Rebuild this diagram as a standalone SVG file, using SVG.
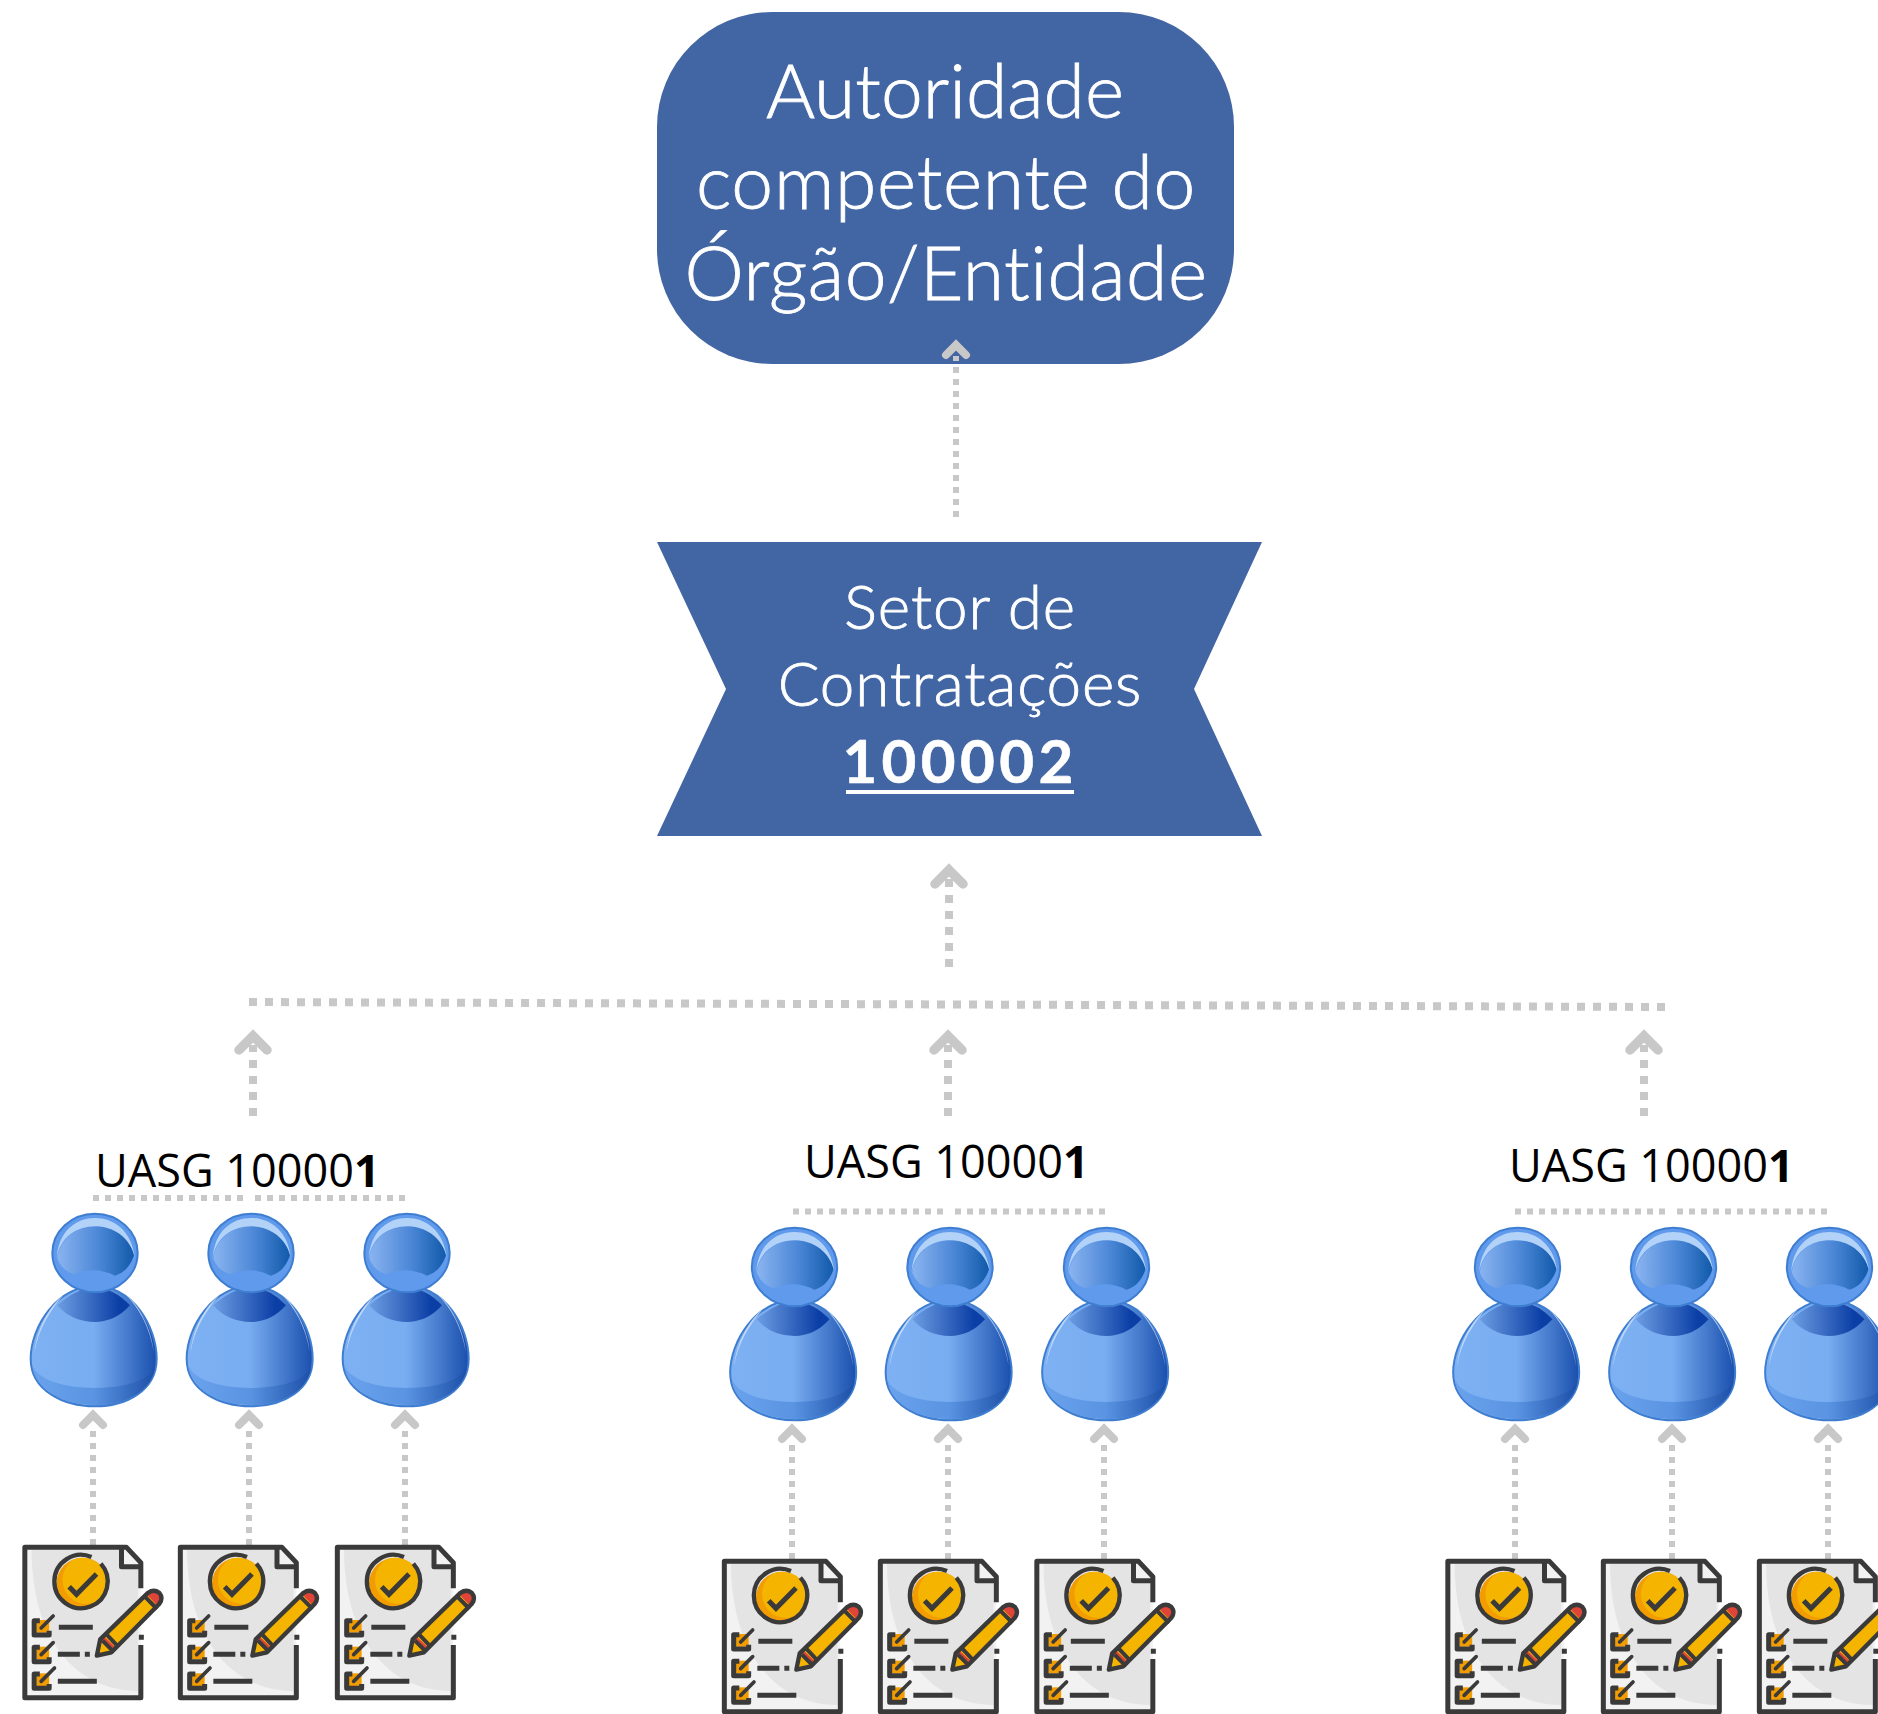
<svg xmlns="http://www.w3.org/2000/svg" width="1878" height="1714" viewBox="0 0 1878 1714">
<style>
.box{fill:#4265a3}
.t{font-family:"Lato","Liberation Sans",sans-serif;font-weight:300;fill:#fff;stroke:#fff;stroke-width:.8;text-anchor:middle;font-variant-ligatures:none}
.u{font-family:"Open Sans","Liberation Sans",sans-serif;font-size:45px;fill:#000}
.u tspan{font-weight:700}
.d{fill:none;stroke:#c8c8c8;stroke-width:6;stroke-dasharray:6 6}
.d2{fill:none;stroke:#c8c8c8;stroke-width:8;stroke-dasharray:8 8}
.c{fill:none;stroke:#c8c8c8;stroke-width:8;stroke-linecap:round;stroke-linejoin:miter}
.c2{fill:none;stroke:#c8c8c8;stroke-width:9.5;stroke-linecap:round;stroke-linejoin:miter}
.k{fill:none;stroke:#3a3a3a;stroke-width:15;stroke-linejoin:round}
.k2{fill:none;stroke:#3a3a3a;stroke-width:11;stroke-linecap:round}
</style>
<defs>
<linearGradient id="gh" x1="0" x2="1" y1="0" y2="0"><stop offset="0" stop-color="#8ab4f0"/><stop offset=".55" stop-color="#4a86d6"/><stop offset="1" stop-color="#125aaa"/></linearGradient>
<linearGradient id="gb" x1="0" x2="1" y1="0" y2="0"><stop offset="0" stop-color="#7db1f3"/><stop offset=".5" stop-color="#78adf1"/><stop offset="1" stop-color="#1a4fae"/></linearGradient>
<linearGradient id="gn" x1="0" x2="1" y1="0" y2="0"><stop offset="0" stop-color="#6c9de2"/><stop offset=".85" stop-color="#0c3fa6"/></linearGradient>
<linearGradient id="gf" x1="0" x2="1" y1="0" y2="0"><stop offset="0" stop-color="#6aa2ec"/><stop offset=".5" stop-color="#5a94e2"/><stop offset="1" stop-color="#1c4fa8"/></linearGradient>
<clipPath id="cc"><circle cx="248" cy="551" r="78"/></clipPath>
<g id="person" transform="scale(.33333) translate(-285 -368)">
<path d="M285 468C170 468 92 590 92 685C92 780 190 828 285 828C380 828 470 780 470 685C470 590 400 468 285 468Z" fill="url(#gb)" stroke="#3e7dd0" stroke-width="6"/>
<path d="M97 705C105 780 190 824 285 824C380 824 460 780 466 705C455 748 380 773 285 773C190 773 112 748 97 705Z" fill="url(#gf)"/>
<path d="M104 665C110 595 150 525 190 495C155 535 115 595 104 665ZM461 665C455 595 415 520 375 490C415 530 450 590 461 665Z" fill="#d6e5fa" opacity=".75"/>
<path d="M172 525Q230 472 285 472Q340 472 390 525Q345 575 285 575Q215 575 172 525Z" fill="url(#gn)"/>
<ellipse cx="285" cy="368" rx="128" ry="118" fill="#5f9aec" stroke="#3e7dd0" stroke-width="6"/>
<path d="M172 385C180 325 230 288 285 288C340 288 395 325 402 375Q385 425 345 436Q285 405 222 432Q185 420 172 385Z" fill="url(#gh)"/>
<path d="M170 385C175 300 230 263 285 263C340 263 395 300 404 380C390 320 340 288 285 288C230 288 180 320 170 385Z" fill="#b3d2f7"/>
</g>
<g id="doc" transform="scale(.33333) translate(-68 -435)">
<path d="M75 442H380L423 485V893H75Z" fill="#f2f2f2"/>
<path d="M95 445H360V500H415V873C230 873 95 720 95 445Z" fill="#e4e4e4"/>
<path class="k" d="M423 565V488L380 442H75V893H423V735M417 712H432M365 442V500H425"/>
<circle cx="248" cy="551" r="78" fill="#f39c00"/>
<circle cx="260" cy="540" r="72" fill="#f5b400" clip-path="url(#cc)"/>
<path d="M275 471A80 80 0 1 0 303 491" fill="none" stroke="#3a3a3a" stroke-width="13"/>
<path d="M208 560L230 583L290 522" fill="none" stroke="#3a3a3a" stroke-width="15"/>
<path d="M291 767L301 718L445 578Q462 566 478 578Q492 595 478 612L335 757Z" fill="#f5b400"/>
<path d="M440 583L445 578Q462 566 478 578Q492 595 478 612L473 617Z" fill="#e04438"/>
<path d="M311 708L350 745L335 757L300 720Z" fill="#e04438"/>
<path d="M291 767L301 718L445 578Q462 566 478 578Q492 595 478 612L335 757Z" fill="none" stroke="#3a3a3a" stroke-width="13" stroke-linejoin="round"/>
<path d="M435 590L472 627M318 701L352 737M308 722L338 752" fill="none" stroke="#3a3a3a" stroke-width="12"/>
<path d="M177 682H279M174 763H240M255 763H270M174 844H291" fill="none" stroke="#3a3a3a" stroke-width="15"/>
<g id="chk"><rect x="110" y="660" width="38" height="38" fill="#f39c00"/><path class="k" d="M120 662H103V705H148V692"/><path class="k2" d="M124 684L160 648"/></g>
<use href="#chk" y="80"/>
<g transform="translate(0 160)"><rect x="110" y="660" width="38" height="38" fill="#f39c00"/><path class="k" d="M120 662H103V705H148V692"/><path class="k2" d="M124 684L164 644"/></g>
</g>
</defs>
<rect width="1878" height="1714" fill="#fff"/>

<g id="autoridade">
<rect class="box" x="657" y="12" width="577" height="352" rx="115"/>
<text class="t" font-size="75" x="945" y="118">Autoridade</text>
<text class="t" font-size="75" x="946" y="209" letter-spacing=".7">competente do</text>
<text class="t" font-size="75" x="946" y="300" letter-spacing=".5">Órgão/Entidade</text>
</g>
<g id="setor">
<polygon class="box" points="657,542 1262,542 1194,689 1262,836 657,836 726,689"/>
<text class="t" font-size="62" x="960" y="629" letter-spacing=".9">Setor de</text>
<text class="t" font-size="62" x="960" y="706" letter-spacing=".8">Contratações</text>
<text class="t" font-size="60" x="960" y="783" letter-spacing="4.4" style="font-weight:700;stroke-width:.6">100002</text>
<rect x="846" y="790" width="228" height="4" fill="#fff"/>
</g>

<g id="connectors">
<path class="d" d="M956 517V356"/><path class="c" d="M946 355L956 345L966 355"/>
<path class="d2" d="M949 967V878"/><path class="c2" d="M935 884L949 870L963 884"/>
<path class="d2" d="M249 1002L1666 1007"/>
<path class="d2" d="M253 1116V1045"/><path class="c2" d="M239 1050L253 1036L267 1050"/>
<path class="d2" d="M948 1116V1045"/><path class="c2" d="M934 1050L948 1036L962 1050"/>
<path class="d2" d="M1644 1116V1045"/><path class="c2" d="M1630 1050L1644 1036L1658 1050"/>
<path class="d" d="M93 1198H243M255 1198H405"/>
<path class="d" d="M793 1211.500H943M955 1211.500H1105"/>
<path class="d" d="M1515 1211.500H1665M1677 1211.500H1827"/>
<path class="d" d="M93 1545V1429"/><path class="c" d="M83 1425L93 1415L103 1425"/>
<path class="d" d="M249 1545V1429"/><path class="c" d="M239 1425L249 1415L259 1425"/>
<path class="d" d="M405 1545V1429"/><path class="c" d="M395 1425L405 1415L415 1425"/>
<path class="d" d="M792 1559V1443"/><path class="c" d="M782 1439L792 1429L802 1439"/>
<path class="d" d="M948 1559V1443"/><path class="c" d="M938 1439L948 1429L958 1439"/>
<path class="d" d="M1104 1559V1443"/><path class="c" d="M1094 1439L1104 1429L1114 1439"/>
<path class="d" d="M1515 1559V1443"/><path class="c" d="M1505 1439L1515 1429L1525 1439"/>
<path class="d" d="M1672 1559V1443"/><path class="c" d="M1662 1439L1672 1429L1682 1439"/>
<path class="d" d="M1828 1559V1443"/><path class="c" d="M1818 1439L1828 1429L1838 1439"/>
</g>

<g id="uasg-1"><text class="u" x="95" y="1187">UASG 10000<tspan>1</tspan></text></g>
<g id="uasg-2"><text class="u" x="804" y="1178">UASG 10000<tspan>1</tspan></text></g>
<g id="uasg-3"><text class="u" x="1509" y="1182">UASG 10000<tspan>1</tspan></text></g>

<g id="person-1"><use href="#person" x="95" y="1253"/></g>
<g id="person-2"><use href="#person" x="251" y="1253"/></g>
<g id="person-3"><use href="#person" x="407" y="1253"/></g>
<g id="person-4"><use href="#person" x="794.500" y="1267"/></g>
<g id="person-5"><use href="#person" x="950" y="1267"/></g>
<g id="person-6"><use href="#person" x="1106.500" y="1267"/></g>
<g id="person-7"><use href="#person" x="1517.500" y="1267"/></g>
<g id="person-8"><use href="#person" x="1673.500" y="1267"/></g>
<g id="person-9"><use href="#person" x="1829.500" y="1267"/></g>

<g id="doc-1"><use href="#doc" x="22.500" y="1545"/></g>
<g id="doc-2"><use href="#doc" x="178" y="1545"/></g>
<g id="doc-3"><use href="#doc" x="335" y="1545"/></g>
<g id="doc-4"><use href="#doc" x="722" y="1559"/></g>
<g id="doc-5"><use href="#doc" x="878" y="1559"/></g>
<g id="doc-6"><use href="#doc" x="1034.500" y="1559"/></g>
<g id="doc-7"><use href="#doc" x="1445.500" y="1559"/></g>
<g id="doc-8"><use href="#doc" x="1601" y="1559"/></g>
<g id="doc-9"><use href="#doc" x="1757" y="1559"/></g>
</svg>
